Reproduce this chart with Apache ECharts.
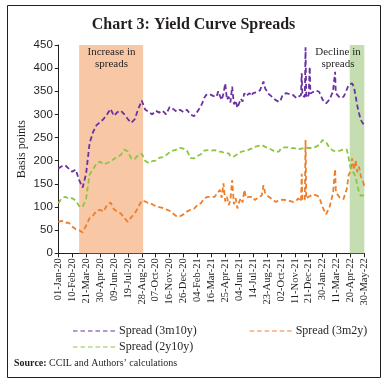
<!DOCTYPE html>
<html>
<head>
<meta charset="utf-8">
<script src="https://cdn.jsdelivr.net/npm/echarts@6/dist/echarts.min.js"></script>
<style>
html,body{margin:0;padding:0;background:#fff;}
#chart{width:387px;height:386px;}
</style>
</head>
<body>
<div id="chart"></div>
<script>
// x values: days since 01-Jan-2020
const startDate = Date.UTC(2020, 0, 1);
const days = [
  0,10,20,30,40,50,60,70,80,90,
  100,110,120,130,140,150,160,170,180,190,
  200,210,220,230,240,250,260,270,280,290,
  300,310,320,330,340,350,360,370,380,390,
  400,405,410,415,420,425,430,435,440,445,
  450,455,460,465,470,475,480,485,490,495,
  500,505,510,515,520,525,530,535,540,545,
  550,555,560,565,570,575,580,585,590,595,
  600,605,610,615,620,625,630,635,640,645,
  650,655,660,665,670,675,680,685,690,
  698,700,702,709,711,713,720,723,725,730,740,750,760,770,780,790,794,796,798,800,
  810,820,825,830,835,840,845,850,855,860,865,870,875,880
];
const spread3m10y = [
  183,188,190,183,176,181,158,142,172,238,
  262,277,283,290,300,312,297,305,308,300,
  290,282,290,312,330,310,306,300,308,304,
  308,300,316,312,306,310,305,310,300,296,
  306,310,318,326,336,342,346,344,348,340,
  344,338,350,340,331,345,367,332,338,326,
  360,322,330,314,318,334,328,346,340,336,
  346,340,346,342,348,345,352,350,371,356,
  350,344,342,338,336,331,330,327,332,342,
  344,346,346,344,342,342,338,335,338,
  342,389,340,338,445,336,342,403,345,349,352,349,332,324,332,350,348,392,346,344,
  336,338,345,348,364,366,367,360,340,318,302,288,282,276
];
const spread3m2y = [
  68,70,66,66,58,52,50,45,60,76,
  82,92,94,90,104,110,95,90,86,76,
  68,78,86,100,114,112,108,106,102,100,
  98,95,92,86,80,80,84,90,94,96,
  104,106,108,112,119,120,122,124,122,120,
  122,128,126,137,120,151,112,122,104,115,
  158,106,119,97,111,119,110,137,120,122,
  122,118,122,115,115,120,122,125,147,130,
  126,122,119,117,119,111,111,114,115,116,
  115,115,115,113,113,111,111,114,119,
  112,172,114,116,245,118,122,126,124,126,126,122,100,84,100,130,132,182,137,130,
  120,117,118,140,170,176,205,180,200,175,187,166,158,146
];
const spread2y10y = [
  108,119,122,118,119,114,102,100,118,170,
  182,194,198,192,195,198,204,208,213,224,
  220,204,204,212,215,200,195,199,200,206,
  208,212,218,222,224,228,226,222,206,205,
  210,212,214,218,222,223,223,224,222,223,
  223,221,220,219,219,218,216,216,216,210,
  207,209,212,214,216,219,220,221,222,223,
  223,226,228,230,230,232,234,234,232,230,
  228,227,225,223,222,219,216,220,226,227,
  229,229,229,228,227,227,227,225,224,
  226,226,227,227,226,227,228,227,228,227,230,234,245,240,228,222,220,220,220,220,
  222,224,226,224,205,186,187,173,166,146,132,124,122,126
];
const seriesNames = ['Spread (3m10y)', 'Spread (3m2y)', 'Spread (2y10y)'];
const seriesColors = ['#6a32a0', '#f07d28', '#8cc63e'];
const increaseBand = [60, 244];
const declineBand = [838, 880];
const yTicks = { min: 0, max: 450, interval: 50 };
const xTicks = { min: 0, max: 880, interval: 40 };

const months = ['Jan','Feb','Mar','Apr','May','Jun','Jul','Aug','Sep','Oct','Nov','Dec'];
function fmtDay(d) {
  const t = new Date(startDate + d * 86400000);
  const dd = String(t.getUTCDate()).padStart(2, '0');
  return dd + '-' + months[t.getUTCMonth()] + '-' + String(t.getUTCFullYear()).slice(2);
}
function pairs(vals) { return days.map((d, i) => [d, vals[i]]); }

const serif = 'Liberation Serif';
const ink = '#231f20';
// dashed legend icon: six dashes
const dashIcon = 'path://M0,0h4.5v1h-4.5z M7.5,0h4.5v1h-4.5z M15,0h4.5v1h-4.5z M22.5,0h4.5v1h-4.5z M30,0h4.5v1h-4.5z M37.5,0h4.5v1h-4.5z';

function lineSeries(name, vals, color) {
  return {
    name: name, type: 'line', data: pairs(vals), symbol: 'none', z: 3,
    lineStyle: { color: color, width: 1.8, type: [5, 3] },
    itemStyle: { color: color }
  };
}
function legendItem(i) { return { name: seriesNames[i], icon: dashIcon, itemStyle: { color: seriesColors[i] } }; }

const chart = echarts.init(document.getElementById('chart'), null, { renderer: 'canvas' });
chart.setOption({
  animation: false,
  backgroundColor: '#fff',
  title: {
    text: 'Chart 3: Yield Curve Spreads', left: 'center', top: 12,
    textStyle: { fontFamily: serif, fontWeight: 'bold', fontSize: 16, color: ink }
  },
  grid: { left: 58.3, right: 22.7, top: 45, bottom: 132.7, containLabel: false },
  xAxis: {
    type: 'value', min: xTicks.min, max: xTicks.max, interval: xTicks.interval,
    axisLine: { show: true, lineStyle: { color: ink, width: 1 } },
    axisTick: { show: true, length: 4, lineStyle: { color: ink } },
    splitLine: { show: false },
    axisLabel: { rotate: 90, margin: 5, fontFamily: serif, fontSize: 10.5, color: ink, formatter: fmtDay, showMinLabel: true, showMaxLabel: true }
  },
  yAxis: {
    type: 'value', min: yTicks.min, max: yTicks.max, interval: yTicks.interval,
    name: 'Basis points', nameLocation: 'middle', nameGap: 30, nameRotate: 90, nameMoveOverlap: false,
    nameTextStyle: { fontFamily: serif, fontSize: 12, color: ink },
    axisLine: { show: true, lineStyle: { color: ink, width: 1 } },
    axisTick: { show: true, length: 3.5, lineStyle: { color: ink } },
    splitLine: { show: false },
    axisLabel: { margin: 5.5, fontFamily: 'Liberation Sans', fontSize: 11.5, color: ink }
  },
  legend: [
    {
      data: [legendItem(0), legendItem(1)], left: 68, top: 320, itemWidth: 42, itemHeight: 2.4, itemGap: 53,
      textStyle: { fontFamily: serif, fontSize: 12, color: ink, padding: [0, 0, 0, -1] }
    },
    {
      data: [legendItem(2)], left: 68, top: 336, itemWidth: 42, itemHeight: 2.4,
      textStyle: { fontFamily: serif, fontSize: 12, color: ink, padding: [0, 0, 0, -1] }
    }
  ],
  series: [
    {
      name: 'bands', type: 'line', data: [], z: 1, silent: true,
      markArea: {
        silent: true,
        data: [
          [{ xAxis: increaseBand[0], itemStyle: { color: '#f8c8a6' } }, { xAxis: increaseBand[1] }],
          [{ xAxis: declineBand[0], itemStyle: { color: '#c4deb2' } }, { xAxis: declineBand[1] }]
        ]
      }
    },
    lineSeries(seriesNames[0], spread3m10y, seriesColors[0]),
    lineSeries(seriesNames[1], spread3m2y, seriesColors[1]),
    lineSeries(seriesNames[2], spread2y10y, seriesColors[2])
  ],
  graphic: [
    { type: 'rect', shape: { x: 7.5, y: 5.5, width: 373, height: 372 }, style: { fill: 'none', stroke: ink, lineWidth: 1 }, z: 0, silent: true },
    { type: 'text', x: 111.5, y: 47, z: 10, style: { text: 'Increase in', fontFamily: serif, fontSize: 11, fill: ink, align: 'center' } },
    { type: 'text', x: 111.5, y: 58.5, z: 10, style: { text: 'spreads', fontFamily: serif, fontSize: 11, fill: ink, align: 'center' } },
    { type: 'text', x: 338, y: 47, z: 10, style: { text: 'Decline in', fontFamily: serif, fontSize: 11, fill: ink, align: 'center' } },
    { type: 'text', x: 338, y: 58.5, z: 10, style: { text: 'spreads', fontFamily: serif, fontSize: 11, fill: ink, align: 'center' } },
    { type: 'text', x: 14, y: 358.5, z: 10, style: {
      text: '{b|Source:} CCIL and Authors\u2019 calculations',
      fontFamily: serif, fontSize: 10, fill: ink,
      rich: { b: { fontFamily: serif, fontSize: 10, fontWeight: 'bold', fill: ink } }
    } }
  ]
});
</script>
</body>
</html>
